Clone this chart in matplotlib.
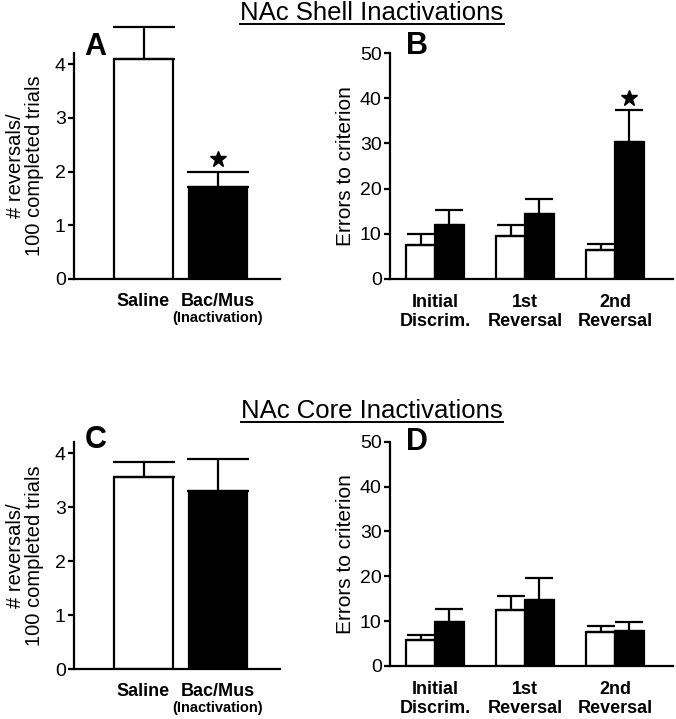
import matplotlib
matplotlib.use("Agg")
import matplotlib.pyplot as plt
import matplotlib.transforms as mtransforms
from matplotlib.lines import Line2D
import numpy as np

plt.rcParams['font.family'] = ['Liberation Sans', 'DejaVu Sans']

# reversals per 100 completed trials (panels A, C)
groups = ['Saline', 'Bac/Mus']
shell_rev_mean = [4.10, 1.72]
shell_rev_sem = [0.60, 0.28]
core_rev_mean = [3.55, 3.30]
core_rev_sem = [0.29, 0.59]

# errors to criterion (panels B, D)
stages = ['Initial\nDiscrim.', '1st\nReversal', '2nd\nReversal']
shell_err_sal = [7.5, 9.5, 6.4]
shell_err_sal_sem = [2.4, 2.4, 1.3]
shell_err_bm = [11.9, 14.3, 30.3]
shell_err_bm_sem = [3.4, 3.5, 7.1]
core_err_sal = [5.7, 12.4, 7.5]
core_err_sal_sem = [1.1, 3.3, 1.4]
core_err_bm = [9.7, 14.8, 7.7]
core_err_bm_sem = [3.0, 4.8, 2.0]

W, H = 676, 719
fig = plt.figure(figsize=(W / 100, H / 100), dpi=100)
LW = 1.6


def rect(l, r, b, t):
    return [l / W, 1 - b / H, (r - l) / W, (b - t) / H]


def below(ax, px):
    # x in data, y = px pixels under the x axis
    return mtransforms.offset_copy(ax.get_xaxis_transform(), fig=fig, y=-px * 0.72, units='points')


def style(ax):
    for s in ['top', 'right']:
        ax.spines[s].set_visible(False)
    for s in ['left', 'bottom']:
        ax.spines[s].set_linewidth(LW)
    ax.tick_params(axis='x', length=0, labelbottom=False)
    ax.tick_params(axis='y', direction='out', length=4, width=LW, pad=2, labelsize=14)


def unclip(eb):
    for a in list(eb[1]) + list(eb[2]):
        a.set_clip_on(False)


def reversal_panel(ax, mean, sem, letter, letter_y, star=False):
    x = np.arange(len(groups))
    ax.bar(x, mean, width=0.79, color=['white', 'black'], edgecolor='black', linewidth=LW, zorder=2)
    eb = ax.errorbar(x, mean, yerr=[[0, 0], sem], fmt='none', ecolor='black',
                     elinewidth=LW, capsize=22, capthick=LW, zorder=3)
    unclip(eb)
    ax.set_xlim(-0.933, 1.832)
    ax.set_ylim(0, 4.21)
    ax.set_yticks([0, 1, 2, 3, 4])
    style(ax)
    ax.set_ylabel('# reversals/\n100 completed trials', fontsize=14.5, linespacing=1.0)
    ax.yaxis.set_label_coords(-0.145, 0.5)
    ax.text(0, 0, groups[0], transform=below(ax, 27), ha='center', va='baseline', fontsize=13, fontweight='bold')
    ax.text(1, 0, groups[1], transform=below(ax, 27), ha='center', va='baseline', fontsize=13, fontweight='bold')
    ax.text(1, 0, '(Inactivation)', transform=below(ax, 43), ha='center', va='baseline', fontsize=10.5, fontweight='bold')
    ax.text(0.05, letter_y, letter, transform=ax.transAxes, ha='left', va='center', fontsize=22, fontweight='bold')
    if star:
        ax.plot(1, mean[1] + sem[1] + 0.23, marker='*', ms=12, color='black', clip_on=False, zorder=4)


def error_panel(ax, sal, sal_sem, bm, bm_sem, letter, letter_y, star=False):
    x = np.arange(len(stages))
    w = 0.32
    ax.bar(x - w / 2, sal, width=w, color='white', edgecolor='black', linewidth=LW, zorder=2)
    ax.bar(x + w / 2, bm, width=w, color='black', edgecolor='black', linewidth=LW, zorder=2)
    eb = ax.errorbar(x - w / 2, sal, yerr=[np.zeros(3), sal_sem], fmt='none', ecolor='black',
                     elinewidth=LW, capsize=10, capthick=LW, zorder=3)
    unclip(eb)
    eb = ax.errorbar(x + w / 2, bm, yerr=[np.zeros(3), bm_sem], fmt='none', ecolor='black',
                     elinewidth=LW, capsize=10, capthick=LW, zorder=3)
    unclip(eb)
    ax.set_xlim(-0.5, 2.644)
    ax.set_ylim(0, 50)
    ax.set_yticks([0, 10, 20, 30, 40, 50])
    style(ax)
    ax.set_ylabel('Errors to criterion', fontsize=15)
    ax.yaxis.set_label_coords(-0.125, 0.5)
    for i, s in enumerate(stages):
        top, bottom = s.split('\n')
        ax.text(i, 0, top, transform=below(ax, 28), ha='center', va='baseline', fontsize=13, fontweight='bold')
        ax.text(i, 0, bottom, transform=below(ax, 47), ha='center', va='baseline', fontsize=13, fontweight='bold')
    ax.text(0.055, letter_y, letter, transform=ax.transAxes, ha='left', va='center', fontsize=22, fontweight='bold')
    if star:
        ax.plot(2 + w / 2, bm[2] + bm_sem[2] + 2.6, marker='*', ms=12, color='black', clip_on=False, zorder=4)


axA = fig.add_axes(rect(74, 280, 279, 53))
axB = fig.add_axes(rect(390, 673, 279, 53))
axC = fig.add_axes(rect(74, 280, 669, 441.7))
axD = fig.add_axes(rect(390, 673, 666, 441.7))

reversal_panel(axA, shell_rev_mean, shell_rev_sem, 'A', 1.025, star=True)
error_panel(axB, shell_err_sal, shell_err_sal_sem, shell_err_bm, shell_err_bm_sem, 'B', 1.03, star=True)
reversal_panel(axC, core_rev_mean, core_rev_sem, 'C', 1.007)
error_panel(axD, core_err_sal, core_err_sal_sem, core_err_bm, core_err_bm_sem, 'D', 1.0)

titles = [
    fig.text(372 / W, 1 - 20 / H, 'NAc Shell Inactivations', ha='center', va='baseline', fontsize=18.5),
    fig.text(372 / W, 1 - 418 / H, 'NAc Core Inactivations', ha='center', va='baseline', fontsize=18.5),
]

# underline the titles
fig.canvas.draw()
r = fig.canvas.get_renderer()
for t in titles:
    bb = t.get_window_extent(r).transformed(fig.transFigure.inverted())
    y = t.get_position()[1] - 3.5 / H
    fig.add_artist(Line2D([bb.x0, bb.x1], [y, y], color='black', lw=1.4, transform=fig.transFigure))

fig.savefig('out.png', dpi=100)
